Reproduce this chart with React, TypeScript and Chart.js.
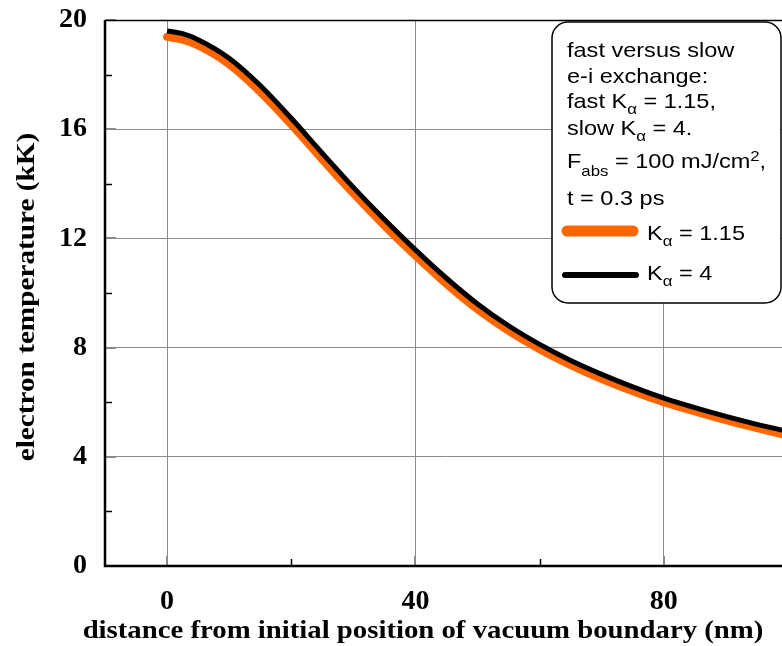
import React, { useEffect, useRef } from "react";
import { Chart, registerables } from "chart.js";

Chart.register(...registerables);

// ---- data ----
const X_NM = [0, 2.5, 5, 10, 15, 20, 25, 30, 35, 40, 45, 50, 55, 60, 65, 70, 75, 80, 85, 90, 95, 100];
const T_FAST = [19.38, 19.28, 19.07, 18.38, 17.37, 16.17, 14.89, 13.65, 12.47, 11.37, 10.33, 9.4, 8.61, 7.94, 7.36, 6.85, 6.4, 6.0, 5.66, 5.34, 5.05, 4.78];
const T_SLOW = [19.6, 19.5, 19.28, 18.6, 17.6, 16.4, 15.12, 13.87, 12.69, 11.58, 10.54, 9.6, 8.8, 8.12, 7.53, 7.02, 6.56, 6.15, 5.8, 5.48, 5.19, 4.93];

const X_MAJOR = [0, 40, 80];
const X_MINOR = [20, 60, 100];
const Y_MAJOR = [0, 4, 8, 12, 16, 20];
const Y_MINOR = [2, 6, 10, 14, 18];

const X_TITLE = "distance from initial position of vacuum boundary (nm)";
const Y_TITLE = "electron temperature (kK)";
const SERIES_LABELS = ["Kα = 1.15", "Kα = 4"];

const ORANGE = "#ff6600";
const GRID = "#8a8a8a";
const SERIF = "'Liberation Serif', 'Times New Roman', serif";
const SANS = "'Liberation Sans', Arial, sans-serif";

type Seg = { t: string; size: number; dy?: number };

function segWidth(ctx: CanvasRenderingContext2D, segs: Seg[], weight: string, family: string) {
  let w = 0;
  for (const s of segs) {
    ctx.font = `${weight} ${s.size}px ${family}`;
    w += ctx.measureText(s.t).width;
  }
  return w;
}

function drawRich(
  ctx: CanvasRenderingContext2D,
  x: number,
  y: number,
  segs: Seg[],
  weight: string,
  family: string,
  sx: number,
  align: "left" | "center" = "left",
  rot = 0
) {
  ctx.save();
  ctx.translate(x, y);
  if (rot) ctx.rotate(rot);
  ctx.scale(sx, 1);
  ctx.textAlign = "left";
  ctx.textBaseline = "alphabetic";
  ctx.fillStyle = "#000";
  let cx = align === "center" ? -segWidth(ctx, segs, weight, family) / 2 : 0;
  for (const s of segs) {
    ctx.font = `${weight} ${s.size}px ${family}`;
    ctx.fillText(s.t, cx, s.dy || 0);
    cx += ctx.measureText(s.t).width;
  }
  ctx.restore();
}

const decorPlugin = {
  id: "decor",
  afterDatasetsDraw(chart: any) {
    const ctx: CanvasRenderingContext2D = chart.ctx;
    const { left, right, top, bottom } = chart.chartArea;
    const xs = chart.scales.x;
    const ys = chart.scales.y;
    ctx.save();
    // minor ticks (inward, black)
    ctx.strokeStyle = "#000";
    ctx.lineWidth = 1.5;
    for (const v of X_MINOR) {
      const px = Math.round(xs.getPixelForValue(v)) + 0.5;
      ctx.beginPath();
      ctx.moveTo(px, bottom);
      ctx.lineTo(px, bottom - 7);
      ctx.stroke();
    }
    for (const v of Y_MINOR) {
      const py = Math.round(ys.getPixelForValue(v)) + 0.5;
      ctx.beginPath();
      ctx.moveTo(left, py);
      ctx.lineTo(left + 7, py);
      ctx.stroke();
    }
    // major ticks (inward, gray)
    ctx.strokeStyle = GRID;
    ctx.lineWidth = 2;
    for (const v of X_MAJOR) {
      const px = Math.round(xs.getPixelForValue(v));
      ctx.beginPath();
      ctx.moveTo(px, bottom);
      ctx.lineTo(px, bottom - 10);
      ctx.stroke();
    }
    for (const v of Y_MAJOR) {
      const py = Math.round(ys.getPixelForValue(v));
      ctx.beginPath();
      ctx.moveTo(left, py);
      ctx.lineTo(left + 11, py);
      ctx.stroke();
    }
    // axes frame
    ctx.strokeStyle = "#000";
    ctx.lineWidth = 1.5;
    ctx.beginPath();
    ctx.moveTo(left, top + 0.5);
    ctx.lineTo(right, top + 0.5);
    ctx.stroke();
    ctx.lineWidth = 2.5;
    ctx.beginPath();
    ctx.moveTo(left, top);
    ctx.lineTo(left, bottom);
    ctx.lineTo(right, bottom);
    ctx.stroke();

    // legend box
    const bx = 552, by = 22, bw = 229, bh = 281, r = 16;
    ctx.beginPath();
    ctx.moveTo(bx + r, by);
    ctx.lineTo(bx + bw - r, by);
    ctx.arcTo(bx + bw, by, bx + bw, by + r, r);
    ctx.lineTo(bx + bw, by + bh - r);
    ctx.arcTo(bx + bw, by + bh, bx + bw - r, by + bh, r);
    ctx.lineTo(bx + r, by + bh);
    ctx.arcTo(bx, by + bh, bx, by + bh - r, r);
    ctx.lineTo(bx, by + r);
    ctx.arcTo(bx, by, bx + r, by, r);
    ctx.closePath();
    ctx.fillStyle = "#fff";
    ctx.fill();
    ctx.strokeStyle = "#000";
    ctx.lineWidth = 1.5;
    ctx.stroke();

    const SXL = 1.12;
    const fs = 21;
    const ss = 15;
    const tx = 567;
    drawRich(ctx, tx, 57, [{ t: "fast versus slow", size: fs }], "normal", SANS, SXL);
    drawRich(ctx, tx, 83, [{ t: "e-i exchange:", size: fs }], "normal", SANS, SXL);
    drawRich(ctx, tx, 108, [
      { t: "fast K", size: fs },
      { t: "α", size: ss, dy: 6 },
      { t: " = 1.15,", size: fs },
    ], "normal", SANS, SXL);
    drawRich(ctx, tx, 135, [
      { t: "slow K", size: fs },
      { t: "α", size: ss, dy: 6 },
      { t: " = 4.", size: fs },
    ], "normal", SANS, SXL);
    drawRich(ctx, tx, 168, [
      { t: "F", size: fs },
      { t: "abs", size: ss, dy: 8 },
      { t: " = 100 mJ/cm", size: fs },
      { t: "2", size: ss, dy: -7 },
      { t: ",", size: fs },
    ], "normal", SANS, SXL);
    drawRich(ctx, tx, 205, [{ t: "t = 0.3 ps", size: fs }], "normal", SANS, SXL);

    // legend entries
    ctx.lineCap = "round";
    ctx.strokeStyle = ORANGE;
    ctx.lineWidth = 11;
    ctx.beginPath();
    ctx.moveTo(567, 231);
    ctx.lineTo(633, 231);
    ctx.stroke();
    ctx.strokeStyle = "#000";
    ctx.lineWidth = 6;
    ctx.beginPath();
    ctx.moveTo(565, 275);
    ctx.lineTo(636, 275);
    ctx.stroke();
    ctx.lineCap = "butt";
    const [l1, l2] = SERIES_LABELS;
    drawRich(ctx, 647, 240, [
      { t: l1.slice(0, 1), size: fs },
      { t: l1.slice(1, 2), size: ss, dy: 6 },
      { t: l1.slice(2), size: fs },
    ], "normal", SANS, SXL);
    drawRich(ctx, 647, 280, [
      { t: l2.slice(0, 1), size: fs },
      { t: l2.slice(1, 2), size: ss, dy: 6 },
      { t: l2.slice(2), size: fs },
    ], "normal", SANS, SXL);

    // axis titles
    drawRich(ctx, 423, 638, [{ t: X_TITLE, size: 25 }], "bold", SERIF, 1.15, "center");
    drawRich(ctx, 34, 297, [{ t: Y_TITLE, size: 25 }], "bold", SERIF, 1.17, "center", -Math.PI / 2);
    ctx.restore();
  },
};

export default function App() {
  const ref = useRef<HTMLCanvasElement | null>(null);
  useEffect(() => {
    if (!ref.current) return;
    const tickFont = { family: SERIF, size: 28, weight: "bold" as const };
    const chart = new Chart(ref.current, {
      type: "line",
      data: {
        labels: X_NM,
        datasets: [
          {
            label: SERIES_LABELS[1],
            data: X_NM.map((x, i) => ({ x, y: T_SLOW[i] })),
            borderColor: "#000",
            borderWidth: 5,
            pointRadius: 0,
            cubicInterpolationMode: "monotone",
            fill: false,
            order: 1,
          },
          {
            label: SERIES_LABELS[0],
            data: X_NM.map((x, i) => ({ x, y: T_FAST[i] })),
            borderColor: ORANGE,
            borderWidth: 8,
            borderCapStyle: "round",
            pointRadius: 0,
            cubicInterpolationMode: "monotone",
            fill: false,
            order: 2,
          },
        ],
      },
      options: {
        animation: false,
        responsive: false,
        devicePixelRatio: 1,
        layout: { padding: { top: 20, right: 12, left: 0, bottom: 0 } },
        plugins: { legend: { display: false }, tooltip: { enabled: false }, title: { display: false } },
        scales: {
          x: {
            type: "linear",
            min: -10,
            max: 100,
            afterBuildTicks: (s: any) => {
              s.ticks = X_MAJOR.map((v) => ({ value: v }));
            },
            afterFit: (s: any) => {
              s.height = 80;
              s.paddingLeft = 0;
              s.paddingRight = 0;
              s.paddingTop = 0;
              s.paddingBottom = 0;
            },
            grid: { color: GRID, lineWidth: 1, drawTicks: false },
            border: { display: false },
            ticks: { font: tickFont, color: "#000", padding: 19, maxRotation: 0 },
          },
          y: {
            type: "linear",
            min: 0,
            max: 20,
            afterBuildTicks: (s: any) => {
              s.ticks = Y_MAJOR.map((v) => ({ value: v }));
            },
            afterFit: (s: any) => {
              s.width = 105;
              s.paddingLeft = 0;
              s.paddingRight = 0;
              s.paddingTop = 0;
              s.paddingBottom = 0;
            },
            grid: { color: GRID, lineWidth: 1, drawTicks: false },
            border: { display: false },
            ticks: { font: tickFont, color: "#000", padding: 18 },
          },
        },
      },
      plugins: [decorPlugin],
    });
    return () => chart.destroy();
  }, []);
  return (
    <div
      style={{
        position: "fixed",
        left: 0,
        top: 0,
        width: 782,
        height: 646,
        overflow: "hidden",
        background: "#fff",
      }}
    >
      <canvas ref={ref} width={800} height={646} style={{ display: "block" }} />
    </div>
  );
}
